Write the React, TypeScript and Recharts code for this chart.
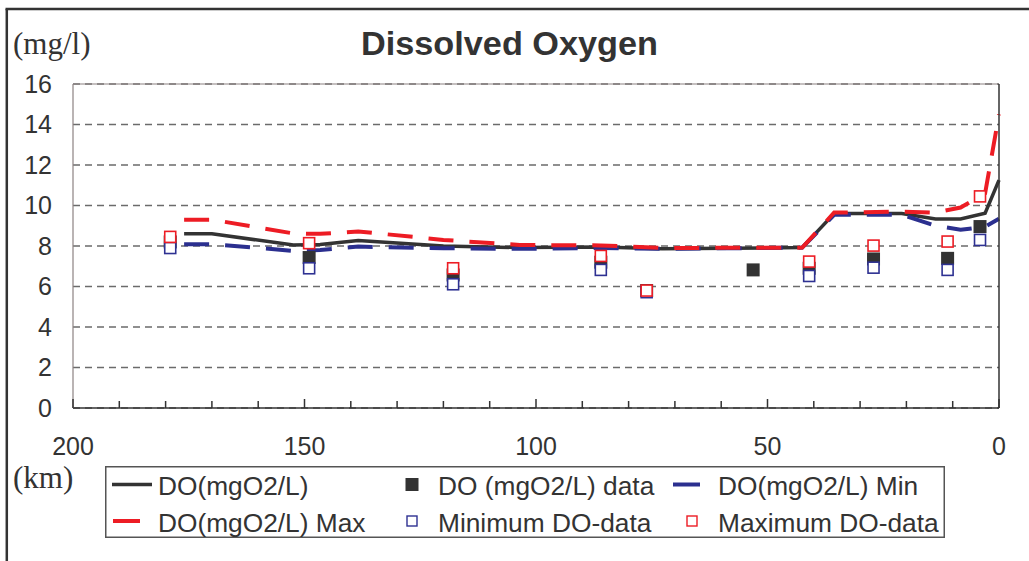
import { ComposedChart, Line, Scatter, XAxis, YAxis, CartesianGrid, ReferenceLine, Legend } from 'recharts'

// model output along the river (km from mouth)
const lineKm = [176, 170, 152.4, 146.6, 138.4, 120, 103.5, 86, 72.8, 42.5, 35.6, 21, 13.7, 8.3, 3, 0]
const doLine = [8.6, 8.6, 8.05, 8.07, 8.27, 8.0, 7.92, 7.95, 7.86, 7.92, 9.6, 9.6, 9.33, 9.33, 9.62, 11.25]
const doMax = [9.3, 9.3, 8.62, 8.6, 8.72, 8.3, 8.05, 8.03, 7.9, 7.92, 9.65, 9.7, 9.65, 9.9, 10.6, 14.5]
const doMin = [8.09, 8.09, 7.76, 7.8, 7.97, 7.89, 7.86, 7.9, 7.86, 7.92, 9.54, 9.54, 9.0, 8.8, 8.95, 9.35]

// measured samples
const sampleKm = [179, 149, 117.9, 86, 76.1, 53.1, 41, 27.1, 11.1, 4.1]
const doData = [8.2, 7.43, 6.57, 7.2, 5.8, 6.82, 6.9, 7.36, 7.39, 8.96]
const minData = [7.9, 6.9, 6.11, 6.82, 5.72, null, 6.52, 6.93, 6.82, 8.3]
const maxData = [8.45, 8.14, 6.9, 7.51, 5.8, null, 7.23, 8.02, 8.22, 10.45]

const yTicks = [0, 2, 4, 6, 8, 10, 12, 14, 16]
const xTicks = [0, 10, 20, 30, 40, 50, 60, 70, 80, 90, 100, 110, 120, 130, 140, 150, 160, 170, 180, 190, 200]

const legendItems = [
  { label: 'DO(mgO2/L)', kind: 'line', color: '#333333' },
  { label: 'DO (mgO2/L) data', kind: 'filled', color: '#333333' },
  { label: 'DO(mgO2/L) Min', kind: 'dash', color: '#2b2f8f' },
  { label: 'DO(mgO2/L) Max', kind: 'dash', color: '#ed1c24' },
  { label: 'Minimum DO-data', kind: 'open', color: '#2e3192' },
  { label: 'Maximum DO-data', kind: 'open', color: '#ed1c24' },
]

const FONT = '"Liberation Sans", Arial, sans-serif'
const SERIF = '"Liberation Serif", "Times New Roman", serif'

const toPoints = (xs: number[], vs: (number | null)[]) =>
  xs.map((km, i) => ({ km, v: vs[i] })).filter((p) => p.v !== null)

const filledSquare = (p: any) => (
  <rect x={p.cx - 6.5} y={p.cy - 6.5} width={13} height={13} fill="#333333" />
)
const openSquare = (color: string) => (p: any) => (
  <rect x={p.cx - 5.5} y={p.cy - 5.5} width={11} height={11} fill="#ffffff" stroke={color} strokeWidth={1.6} />
)

function XTick(props: any) {
  const { x, y, payload } = props
  const v = payload.value
  const major = v % 50 === 0
  return (
    <g>
      <line x1={x} x2={x} y1={y} y2={y - (major ? 9 : 7)} stroke="#333" strokeWidth={1.5} />
      {major && (
        <text x={x} y={y + 29} dy="0.71em" textAnchor="middle" fontSize={25} fill="#333" fontFamily={FONT}>
          {v}
        </text>
      )}
    </g>
  )
}

function LegendBox() {
  const colX = [53, 333, 613]
  const rowY = [18.5, 55]
  return (
    <svg width={840} height={72} style={{ display: 'block' }}>
      <rect x={0.75} y={0.75} width={838.5} height={70.5} fill="#fff" stroke="#555" strokeWidth={1.5} />
      {legendItems.map((it, i) => {
        const tx = colX[i % 3]
        const cy = rowY[Math.floor(i / 3)]
        let marker
        if (it.kind === 'line') marker = <line x1={tx - 46} x2={tx - 6} y1={cy} y2={cy} stroke={it.color} strokeWidth={3.5} />
        else if (it.kind === 'dash') marker = <line x1={tx - 45} x2={tx - 18} y1={cy} y2={cy} stroke={it.color} strokeWidth={4} />
        else if (it.kind === 'filled') marker = <rect x={tx - 32.5} y={cy - 6.5} width={13} height={13} fill={it.color} />
        else marker = <rect x={tx - 31} y={cy - 5} width={10} height={10} fill="#fff" stroke={it.color} strokeWidth={1.4} />
        return (
          <g key={it.label}>
            {marker}
            <text x={tx} y={cy + 10.5} fontSize={26.3} fill="#333" fontFamily={FONT}>
              {it.label}
            </text>
          </g>
        )
      })}
    </svg>
  )
}

export default function App() {
  const lineData = toPoints(lineKm, doLine)
  const maxLine = toPoints(lineKm, doMax)
  const minLine = toPoints(lineKm, doMin)
  return (
    <div style={{ position: 'absolute', left: 0, top: 0, width: 1029, height: 561, background: '#fff', overflow: 'hidden' }}>
      <svg width={1029} height={561} style={{ position: 'absolute', left: 0, top: 0 }}>
        <line x1={6.8} y1={9} x2={6.8} y2={561} stroke="#333" strokeWidth={2.5} />
        <line x1={5.5} y1={9} x2={1029} y2={9} stroke="#333" strokeWidth={2.5} />
        <text x={509.5} y={55} textAnchor="middle" fontSize={33} fontWeight="bold" fill="#333" fontFamily={FONT}
          textLength={297} lengthAdjust="spacingAndGlyphs">
          Dissolved Oxygen
        </text>
        <text x={13} y={54} fontSize={31} fill="#333" fontFamily={SERIF}>(mg/l)</text>
        <text x={13} y={488} fontSize={31} fill="#333" fontFamily={SERIF}>(km)</text>
      </svg>
      <div style={{ position: 'absolute', left: 0, top: 0 }}>
        <ComposedChart width={1029} height={561} margin={{ top: 84, right: 0, bottom: 93, left: 0 }}>
          <CartesianGrid vertical={false} stroke="#6b6b6b" strokeWidth={1.3} strokeDasharray="7 5" />
          <XAxis
            dataKey="km"
            type="number"
            domain={[0, 200]}
            reversed
            ticks={xTicks}
            interval={0}
            height={60}
            tickSize={0}
            tickMargin={0}
            tickLine={false}
            tick={<XTick />}
            axisLine={{ stroke: '#333', strokeWidth: 1.5 }}
          />
          <YAxis
            type="number"
            domain={[0, 16]}
            ticks={yTicks}
            interval={0}
            width={73}
            tickSize={6}
            tickMargin={15}
            tickLine={false}
            axisLine={{ stroke: '#8c8282', strokeWidth: 1.2 }}
            tick={{ fontSize: 25, fill: '#333', fontFamily: FONT }}
          />
          <YAxis
            yAxisId="r"
            orientation="right"
            type="number"
            domain={[0, 16]}
            ticks={yTicks}
            interval={0}
            width={30}
            tickSize={8}
            tick={false}
            tickLine={{ stroke: '#333', strokeWidth: 1.2 }}
            axisLine={{ stroke: '#333', strokeWidth: 1.5 }}
          />
          <ReferenceLine y={16} stroke="#8c8282" strokeWidth={1.2} />
          <Line data={lineData} dataKey="v" type="linear" stroke="#333333" strokeWidth={3.5} dot={false} isAnimationActive={false} name="DO(mgO2/L)" />
          <Line data={minLine} dataKey="v" type="linear" stroke="#2b2f8f" strokeWidth={4} strokeDasharray="25 16" dot={false} isAnimationActive={false} name="DO(mgO2/L) Min" />
          <Line data={maxLine} dataKey="v" type="linear" stroke="#ed1c24" strokeWidth={4} strokeDasharray="25 16" dot={false} isAnimationActive={false} name="DO(mgO2/L) Max" />
          <Scatter data={toPoints(sampleKm, doData)} dataKey="v" shape={filledSquare} isAnimationActive={false} name="DO (mgO2/L) data" />
          <Scatter data={toPoints(sampleKm, minData)} dataKey="v" shape={openSquare('#2e3192')} isAnimationActive={false} name="Minimum DO-data" />
          <Scatter data={toPoints(sampleKm, maxData)} dataKey="v" shape={openSquare('#ed1c24')} isAnimationActive={false} name="Maximum DO-data" />
          <Legend
            layout="horizontal"
            verticalAlign="middle"
            align="center"
            content={() => <LegendBox />}
            wrapperStyle={{ left: 105, top: 466, width: 840, height: 72 }}
          />
        </ComposedChart>
      </div>
    </div>
  )
}
